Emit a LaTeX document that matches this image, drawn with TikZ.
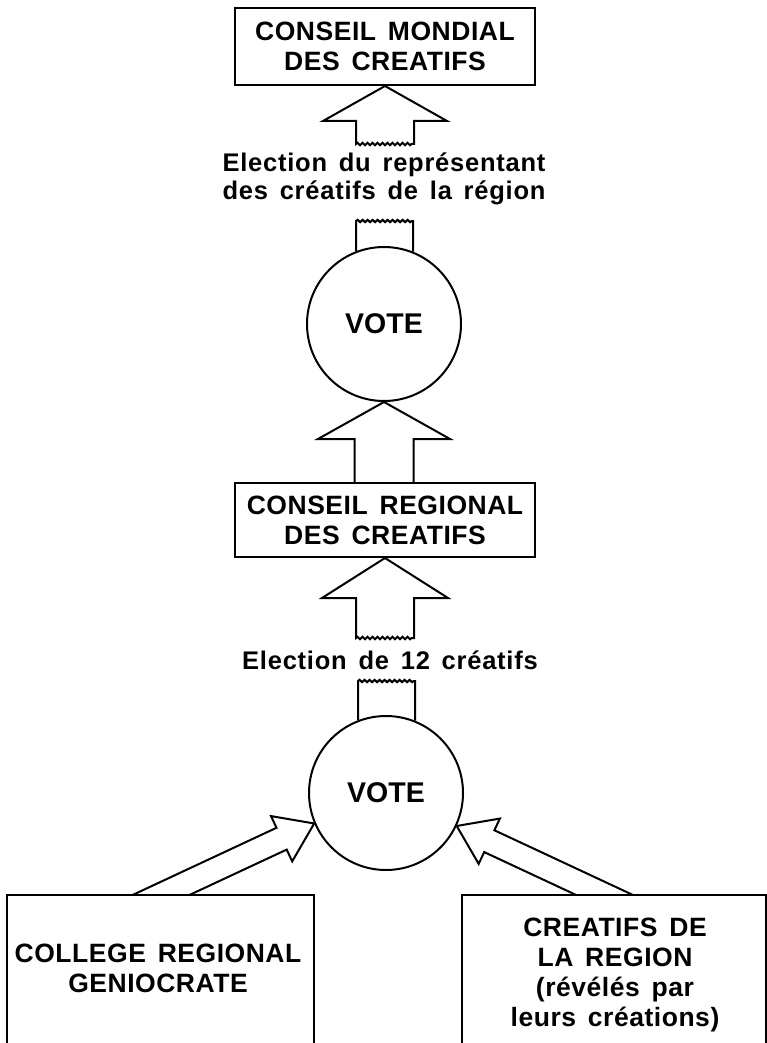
\documentclass[tikz,border=0pt]{standalone}
\usepackage{fontspec}
\setmainfont{Liberation Sans}
\newfontfamily\dgboxfont[LetterSpace=2,WordSpace=1.5]{Liberation Sans}
\newfontfamily\dglblfont[LetterSpace=3,WordSpace=1.5]{Liberation Sans}
\usetikzlibrary{calc,decorations.pathmorphing}
\begin{document}
\begin{tikzpicture}[x=1pt,y=-1pt,line width=2pt,
  boxtxt/.style={font=\dgboxfont\fontsize{26.5}{30}\selectfont\bfseries, align=center, inner sep=0pt},
  frame/.style={draw, minimum width=300pt, inner sep=0pt},
  votenode/.style={draw, circle, minimum size=154pt, inner sep=0pt, font=\fontsize{28.5}{30}\selectfont\bfseries},
  lbl/.style={font=\dglblfont\fontsize{25.5}{28}\selectfont\bfseries, align=center, inner sep=0pt},
  wavy/.style={decoration={snake, amplitude=1.2pt, segment length=5pt}}]
\useasboundingbox (0,0) rectangle (766,1043);

% nodes
\node[frame, minimum height=77pt, boxtxt] (box1) at (385,46.5) {CONSEIL MONDIAL\\DES CREATIFS};
\node[lbl] (lbl1) at (384,179) {Election du représentant\\des créatifs de la région};
\node[votenode] (vote1) at (384,324) {VOTE};
\node[frame, minimum height=74pt, boxtxt] (box2) at (385,520) {CONSEIL REGIONAL\\DES CREATIFS};
\node[lbl] (lbl2) at (390,660) {Election de 12 créatifs};
\node[votenode] (vote2) at (386,793) {VOTE};
\node[minimum width=305pt, minimum height=147pt, inner sep=0pt] (boxL) at (160.5,969.5) {};
\node[minimum width=302pt, minimum height=147pt, inner sep=0pt] (boxR) at (614,969.5) {};
\draw (boxL.south west) -- (boxL.north west) -- (boxL.north east) -- (boxL.south east);
\draw (boxR.south west) -- (boxR.north west) -- (boxR.north east) -- (boxR.south east);
\node[boxtxt] (tL) at (158,968) {COLLEGE REGIONAL\\GENIOCRATE};
\node[boxtxt] (tR) at (615,975) {CREATIFS DE\\LA REGION\\(révélés par\\leurs créations)};

% arrow: vote1 -> box1 (cut by the label)
\draw (box1.south) -- ++(-62,35) -- ++(33,0) -- ++(0,23) decorate[wavy]{-- ++(58,0)} -- ++(0,-23) -- ++(33,0) -- cycle;
\coordinate (st1) at ($(vote1.north)+(0,-25)$);
\draw (vote1.111.3) -- (vote1.111.3 |- st1) decorate[wavy]{-- (vote1.68.7 |- st1)} -- (vote1.68.7);

% arrow: box2 -> vote1
\path (vote1.south) ++(-29.5,37) coordinate (a2l);
\path (vote1.south) ++(29.5,37) coordinate (a2r);
\draw (a2l |- box2.north) -- (a2l) -- ++(-36.5,0) -- (vote1.south) -- ++(66,37) -- (a2r) -- (a2r |- box2.north);

% arrow: vote2 -> box2 (cut by the label)
\draw (box2.south) -- ++(-63,40) -- ++(34,0) -- ++(0,40) decorate[wavy]{-- ++(58,0)} -- ++(0,-40) -- ++(34,0) -- cycle;
\coordinate (st2) at ($(vote2.north)+(0,-34)$);
\draw (vote2.111.5) -- (vote2.111.5 |- st2) decorate[wavy]{-- (vote2.68.5 |- st2)} -- (vote2.68.5);

% diagonal arrow: boxL -> vote2
\coordinate (tipL) at (vote2.203);
\path (tipL) ++(-37.7,4.3) coordinate (uL) ++(-147.1,68.7) coordinate (uLf);
\path (tipL) ++(-27.5,26.1) coordinate (lL) ++(-147.1,68.7) coordinate (lLf);
\draw (intersection of uL--uLf and boxL.north west--boxL.north east) -- (uL) -- ++(-5.5,-11.7) -- (tipL) -- ++(-22,37.9) -- (lL) -- (intersection of lL--lLf and boxL.north west--boxL.north east);

% diagonal arrow: boxR -> vote2
\coordinate (tipR) at (vote2.-25);
\path (tipR) ++(37.7,4.3) coordinate (uR) ++(147.1,68.7) coordinate (uRf);
\path (tipR) ++(27.5,26.1) coordinate (lR) ++(147.1,68.7) coordinate (lRf);
\draw (intersection of uR--uRf and boxR.north west--boxR.north east) -- (uR) -- ++(5.5,-11.7) -- (tipR) -- ++(22,37.9) -- (lR) -- (intersection of lR--lRf and boxR.north west--boxR.north east);
\end{tikzpicture}
\end{document}
